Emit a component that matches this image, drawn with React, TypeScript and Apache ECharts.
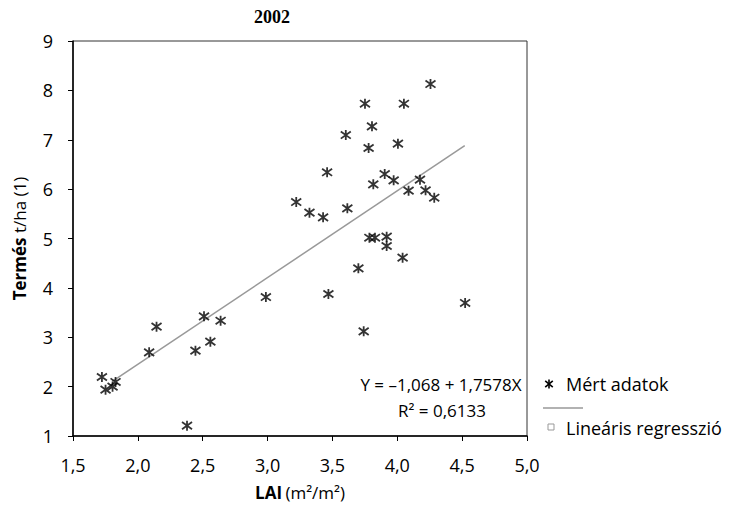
import React, { useEffect, useRef } from "react";
import * as echarts from "echarts";

const title = "2002";
const xName = "LAI";
const xUnit = "(m²/m²)";
const yNameBold = "Termés";
const yNameRest = " t/ha (1)";
const seriesMeasured = "Mért adatok";
const seriesRegression = "Lineáris regresszió";
const equationText = "Y = –1,068 + 1,7578X";
const r2Text = "R² = 0,6133";

const laiValues = [
  1.723, 1.751, 1.805, 1.828, 2.144, 2.087, 2.379, 2.51, 2.444, 2.559, 2.638, 2.987,
  4.256, 3.751, 4.051, 3.805, 3.603, 3.779, 4.005, 3.459, 3.903, 3.972, 3.815, 4.175,
  4.087, 4.218, 4.285, 3.221, 3.323, 3.428, 3.615,
  3.785, 3.828, 3.918, 3.918, 4.041, 3.7, 3.469, 4.523, 3.741,
];
const yieldValues = [
  2.195, 1.938, 1.999, 2.094, 3.214, 2.695, 1.209, 3.424, 2.728, 2.91, 3.335, 3.815,
  8.129, 7.73, 7.73, 7.272, 7.096, 6.833, 6.92, 6.341, 6.306, 6.178, 6.097, 6.191,
  5.968, 5.976, 5.826, 5.739, 5.523, 5.429, 5.611,
  5.016, 5.016, 5.037, 4.848, 4.612, 4.396, 3.876, 3.694, 3.12,
];
const regressionX = [1.8, 4.52];
const regressionY = [2.1, 6.88];

const xTicks = { min: 1.5, max: 5.0, interval: 0.5 };
const yTicks = { min: 1, max: 9, interval: 1 };

const starPath = "path://M0,-5L0,5M-4.3,-3.6L4.3,3.6M-4.3,3.6L4.3,-3.6";

export default function App() {
  const ref = useRef<HTMLDivElement>(null);
  useEffect(() => {
    if (!ref.current) return;
    const chart = echarts.init(ref.current, null, { renderer: "svg" });
    const font = "'Open Sans', sans-serif";
    chart.setOption({
      animation: false,
      backgroundColor: "#fff",
      grid: {
        left: 73,
        right: 215,
        top: 41,
        bottom: 70,
        show: true,
        borderColor: "#333",
        borderWidth: 1,
        containLabel: false,
        outerBoundsMode: "none",
      },
      xAxis: {
        type: "value",
        min: xTicks.min,
        max: xTicks.max,
        interval: xTicks.interval,
        name: `{b|${xName}} {n|${xUnit}}`,
        nameLocation: "middle",
        nameGap: 48,
        nameTextStyle: {
          rich: {
            b: { fontFamily: font, fontSize: 17, fontWeight: "bold", color: "#000" },
            n: { fontFamily: font, fontSize: 17, color: "#000" },
          },
        },
        axisLine: { show: true, onZero: false, lineStyle: { color: "#000", width: 1.5 } },
        axisTick: { show: true, inside: false, length: 5, lineStyle: { color: "#000" } },
        axisLabel: {
          margin: 20,
          fontFamily: font,
          fontSize: 18,
          color: "#000",
          formatter: (v: number) => v.toFixed(1).replace(".", ","),
        },
        splitLine: { show: false },
      },
      yAxis: {
        type: "value",
        min: yTicks.min,
        max: yTicks.max,
        interval: yTicks.interval,
        name: `{b|${yNameBold}}{n|${yNameRest}}`,
        nameLocation: "middle",
        nameGap: 45,
        nameRotate: 90,
        nameTextStyle: {
          rich: {
            b: { fontFamily: font, fontSize: 17, fontWeight: "bold", color: "#000" },
            n: { fontFamily: font, fontSize: 17, color: "#000" },
          },
        },
        axisLine: { show: true, onZero: false, lineStyle: { color: "#000", width: 1.5 } },
        axisTick: { show: true, inside: false, length: 5, lineStyle: { color: "#000" } },
        axisLabel: { margin: 20, fontFamily: font, fontSize: 18, color: "#000" },
        splitLine: { show: false },
      },
      series: [
        {
          name: seriesRegression,
          type: "line",
          data: regressionX.map((x, i) => [x, regressionY[i]]),
          symbol: "none",
          lineStyle: { color: "#999", width: 1.5 },
          z: 1,
        },
        {
          name: seriesMeasured,
          type: "scatter",
          data: laiValues.map((x, i) => [x, yieldValues[i]]),
          symbol: starPath,
          symbolSize: 10,
          itemStyle: { color: "none", borderColor: "#000", borderWidth: 1.8 },
          z: 2,
        },
      ],
      graphic: [
        {
          type: "text",
          x: 272,
          y: 17,
          style: {
            text: title,
            font: "bold 18px 'Liberation Serif', serif",
            fill: "#000",
            textAlign: "center",
            textVerticalAlign: "middle",
          },
        },
        {
          type: "text",
          x: 441,
          y: 384,
          style: {
            text: equationText,
            font: `17px ${font}`,
            fill: "#000",
            textAlign: "center",
            textVerticalAlign: "middle",
          },
        },
        {
          type: "text",
          x: 442,
          y: 410,
          style: {
            text: r2Text,
            font: `17px ${font}`,
            fill: "#000",
            textAlign: "center",
            textVerticalAlign: "middle",
          },
        },
        // legend
        {
          type: "group",
          x: 549,
          y: 384,
          children: [
            { type: "line", shape: { x1: 0, y1: -4.5, x2: 0, y2: 4.5 }, style: { stroke: "#000", lineWidth: 1.6 } },
            { type: "line", shape: { x1: -3.8, y1: -3.2, x2: 3.8, y2: 3.2 }, style: { stroke: "#000", lineWidth: 1.6 } },
            { type: "line", shape: { x1: -3.8, y1: 3.2, x2: 3.8, y2: -3.2 }, style: { stroke: "#000", lineWidth: 1.6 } },
          ],
        },
        {
          type: "text",
          x: 566,
          y: 384,
          style: {
            text: seriesMeasured,
            font: `18px ${font}`,
            fill: "#000",
            textAlign: "left",
            textVerticalAlign: "middle",
          },
        },
        {
          type: "line",
          shape: { x1: 543, y1: 408, x2: 583, y2: 408 },
          style: { stroke: "#999", lineWidth: 1.5 },
        },
        {
          type: "rect",
          shape: { x: 548, y: 424, width: 6, height: 6 },
          style: { fill: "none", stroke: "#999", lineWidth: 1 },
        },
        {
          type: "text",
          x: 566,
          y: 428,
          style: {
            text: seriesRegression,
            font: `18px ${font}`,
            fill: "#000",
            textAlign: "left",
            textVerticalAlign: "middle",
          },
        },
      ],
    });
    return () => chart.dispose();
  }, []);
  return (
    <div
      ref={ref}
      style={{ position: "absolute", left: 0, top: 0, width: 742, height: 506 }}
    />
  );
}
